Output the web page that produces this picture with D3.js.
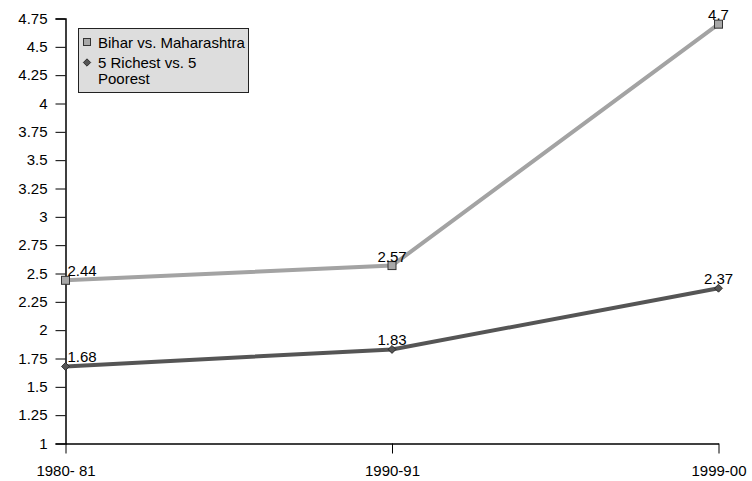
<!DOCTYPE html>
<html>
<head>
<meta charset="utf-8">
<script src="https://cdn.jsdelivr.net/npm/d3@7/dist/d3.min.js"></script>
<style>
  html, body { margin: 0; padding: 0; background: #fff; }
  svg { display: block; font-family: "Liberation Sans", Arial, sans-serif; }
</style>
</head>
<body>
<svg id="chart" width="752" height="481"></svg>
<script>
// Periods on the x axis
const periods = ["1980- 81", "1990-91", "1999-00"];
// Ratio series
const biharVsMaharashtra = [2.44, 2.57, 4.7];
const richestVsPoorest = [1.68, 1.83, 2.37];
// Y axis ticks
const yTicks = [1, 1.25, 1.5, 1.75, 2, 2.25, 2.5, 2.75, 3, 3.25, 3.5, 3.75, 4, 4.25, 4.5, 4.75];
const seriesNames = ["Bihar vs. Maharashtra", "5 Richest vs. 5 Poorest"];

const svg = d3.select("#chart");
const plotLeft = 65.5, plotRight = 718.5, plotTop = 18.5, plotBottom = 443.5;

const x = d3.scalePoint().domain(periods).range([plotLeft, plotRight]);
const y = d3.scaleLinear().domain([1, 4.75]).range([plotBottom, plotTop]);

const fontSize = 15;

// Y axis
const yAxis = svg.append("g")
  .attr("transform", `translate(${plotLeft},0)`)
  .call(d3.axisLeft(y).tickValues(yTicks).tickSize(10).tickPadding(8)
    .tickFormat(d => String(d)));
yAxis.select(".domain").attr("stroke", "#000").attr("stroke-width", 1.5);
yAxis.selectAll(".tick line").attr("stroke", "#000");
yAxis.selectAll("text").attr("font-size", fontSize).attr("fill", "#000")
  .attr("font-family", "Liberation Sans, Arial, sans-serif");

// X axis
const xAxis = svg.append("g")
  .attr("transform", `translate(0,${plotBottom})`)
  .call(d3.axisBottom(x).tickSize(10).tickPadding(12).tickSizeOuter(0));
xAxis.select(".domain").attr("stroke", "#000").attr("stroke-width", 1.5);
xAxis.selectAll(".tick line").attr("stroke", "#000");
xAxis.selectAll("text").attr("font-size", fontSize).attr("fill", "#000")
  .attr("font-family", "Liberation Sans, Arial, sans-serif");

const series = [
  { name: seriesNames[0], values: biharVsMaharashtra, color: "#a3a3a3", marker: "square" },
  { name: seriesNames[1], values: richestVsPoorest, color: "#555555", marker: "diamond" }
];

const line = d3.line().x((d, i) => x(periods[i])).y(d => y(d));

// Symmetric diamond: a small square turned 45 degrees
function diamond(parent, cx, cy, half) {
  return parent.append("rect")
    .attr("x", -half).attr("y", -half)
    .attr("width", half * 2).attr("height", half * 2)
    .attr("transform", `translate(${cx},${cy}) rotate(45)`)
    .attr("fill", "#555").attr("stroke", "#222").attr("stroke-width", 0.8);
}

series.forEach(s => {
  svg.append("path")
    .datum(s.values)
    .attr("d", line)
    .attr("fill", "none")
    .attr("stroke", s.color)
    .attr("stroke-width", 4);

  const g = svg.append("g");
  s.values.forEach((v, i) => {
    const cx = x(periods[i]), cy = y(v);
    if (s.marker === "square") {
      g.append("rect")
        .attr("x", cx - 4).attr("y", cy - 4)
        .attr("width", 8).attr("height", 8)
        .attr("fill", "#a8a8a8").attr("stroke", "#333").attr("stroke-width", 1);
    } else {
      diamond(g, cx, cy, 2.8);
    }
    g.append("text")
      .attr("x", i === 0 ? cx + 2 : cx)
      .attr("y", cy - 4)
      .attr("text-anchor", i === 0 ? "start" : "middle")
      .attr("font-size", fontSize)
      .attr("fill", "#000")
      .text(String(v));
  });
});

// Legend
const legend = svg.append("g");
legend.append("rect")
  .attr("x", 78.5).attr("y", 28.5).attr("width", 170).attr("height", 64)
  .attr("fill", "#dddddd").attr("stroke", "#222").attr("stroke-width", 1);
legend.append("rect")
  .attr("x", 83.5).attr("y", 38.5).attr("width", 7).attr("height", 7)
  .attr("fill", "#a8a8a8").attr("stroke", "#333");
legend.append("text").attr("x", 98).attr("y", 47.5)
  .attr("font-size", fontSize).attr("fill", "#000").text(seriesNames[0]);
diamond(legend, 87, 62.5, 2.6);
legend.append("text").attr("x", 98).attr("y", 67.5)
  .attr("font-size", fontSize).attr("fill", "#000").text("5 Richest vs. 5");
legend.append("text").attr("x", 98).attr("y", 84)
  .attr("font-size", fontSize).attr("fill", "#000").text("Poorest");
</script>
</body>
</html>
